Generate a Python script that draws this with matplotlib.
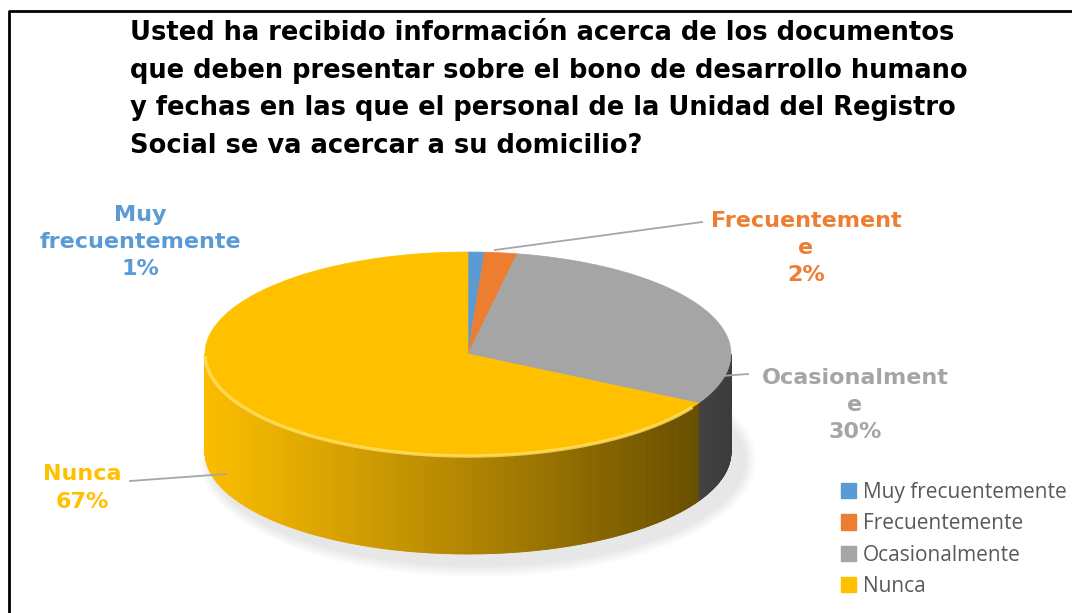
import numpy as np
import matplotlib
matplotlib.use("Agg")
import matplotlib.pyplot as plt
from matplotlib.patches import Polygon, Patch, Ellipse
from matplotlib.colors import to_rgb

# data
categories = ["Muy frecuentemente", "Frecuentemente", "Ocasionalmente", "Nunca"]
percent = [1, 2, 30, 67]
label_text = ["Muy\nfrecuentemente\n1%", "Frecuentement\ne\n2%", "Ocasionalment\ne\n30%", "Nunca\n67%"]
colors = ["#5b9bd5", "#ed7d31", "#a5a5a5", "#ffc000"]

title = ("Usted ha recibido información acerca de los documentos\n"
         "que deben presentar sobre el bono de desarrollo humano\n"
         "y fechas en las que el personal de la Unidad del Registro\n"
         "Social se va acercar a su domicilio?")

W, H = 1072, 613
fig = plt.figure(figsize=(W / 100, H / 100), dpi=100)
ax = fig.add_axes([0, 0, 1, 1])
ax.set_xlim(0, W)
ax.set_ylim(H, 0)
ax.axis("off")

# frame lines (left and top)
ax.plot([9, 9, W], [H, 11, 11], color="black", lw=2, solid_capstyle="butt")

# pie geometry in pixels
cx, cy, rx, ry, depth = 468, 354, 263, 102, 98


def pt(a):
    r = np.radians(a)
    return cx + rx * np.cos(r), cy - ry * np.sin(r)


# slice angles: start at 90 deg, clockwise
vals = np.array(percent, dtype=float)
bounds = 90 - 360 * np.concatenate([[0], np.cumsum(vals) / vals.sum()])

# soft shadow
for k in range(8):
    ax.add_patch(Ellipse((cx + 10, cy + depth + 8), 2 * rx + 30 - 3 * k, 2 * ry + 30 - 3 * k,
                         color="#000000", alpha=0.012, lw=0, zorder=1))

# front side with shading
for i in range(len(vals)):
    a0, a1 = bounds[i], bounds[i + 1]
    lo, hi = max(a1, -180), min(a0, 0)
    if lo >= hi:
        continue
    base = np.array(to_rgb(colors[i]))
    angs = np.linspace(hi, lo, int((hi - lo) * 2) + 2)
    for j in range(len(angs) - 1):
        x0, y0 = pt(angs[j])
        x1, y1 = pt(angs[j + 1])
        xm = (x0 + x1) / 2
        t = (xm - (cx - rx)) / (2 * rx)
        f = 0.98 - 0.62 * t ** 1.1
        c = np.clip(base * f, 0, 1)
        ax.add_patch(Polygon([[x0, y0], [x1, y1], [x1, y1 + depth], [x0, y0 + depth]],
                             closed=True, fc=c, ec=c, lw=0.6, zorder=2))

# top faces
for i in range(len(vals)):
    angs = np.linspace(bounds[i], bounds[i + 1], max(int(abs(bounds[i] - bounds[i + 1])), 2) + 1)
    xs, ys = pt(angs)
    verts = np.column_stack([np.r_[cx, xs], np.r_[cy, ys]])
    ax.add_patch(Polygon(verts, closed=True, fc=colors[i], ec=colors[i], lw=0.5, zorder=3))

# bevel highlight on front rim
angs = np.linspace(-178, -32, 200)
xs, ys = pt(angs)
ax.plot(xs, ys, color="#ffe066", lw=2.5, alpha=0.8, zorder=4)

# data labels and leader lines
lab_pos = [(140, 242), (806, 248), (855, 405), (82, 488)]
leaders = [None, [(495, 250), (702, 222)], [(722, 376), (748, 374)], [(130, 481), (226, 474)]]
for i in range(len(vals)):
    ax.text(lab_pos[i][0], lab_pos[i][1], label_text[i], color=colors[i], fontsize=16,
            fontweight="bold", ha="center", va="center", linespacing=1.45, zorder=5)
    if leaders[i] is not None:
        (x0, y0), (x1, y1) = leaders[i]
        ax.plot([x0, x1], [y0, y1], color="#a6a6a6", lw=1.3, zorder=5)

# title
ax.text(130, 20, title, fontsize=18.5, fontweight="bold", color="black", ha="left", va="top",
        linespacing=1.58)

# legend
handles = [Patch(fc=c, ec=c) for c in colors]
fig.legend(handles, categories, loc="upper left", bbox_to_anchor=(822 / W, 1 - 463 / H),
           frameon=False, labelcolor="#595959", handlelength=0.75,
           handleheight=0.75, handletextpad=0.3, labelspacing=0.5,
           prop={"family": "Open Sans", "size": 15})

fig.savefig("out.png", dpi=100)
